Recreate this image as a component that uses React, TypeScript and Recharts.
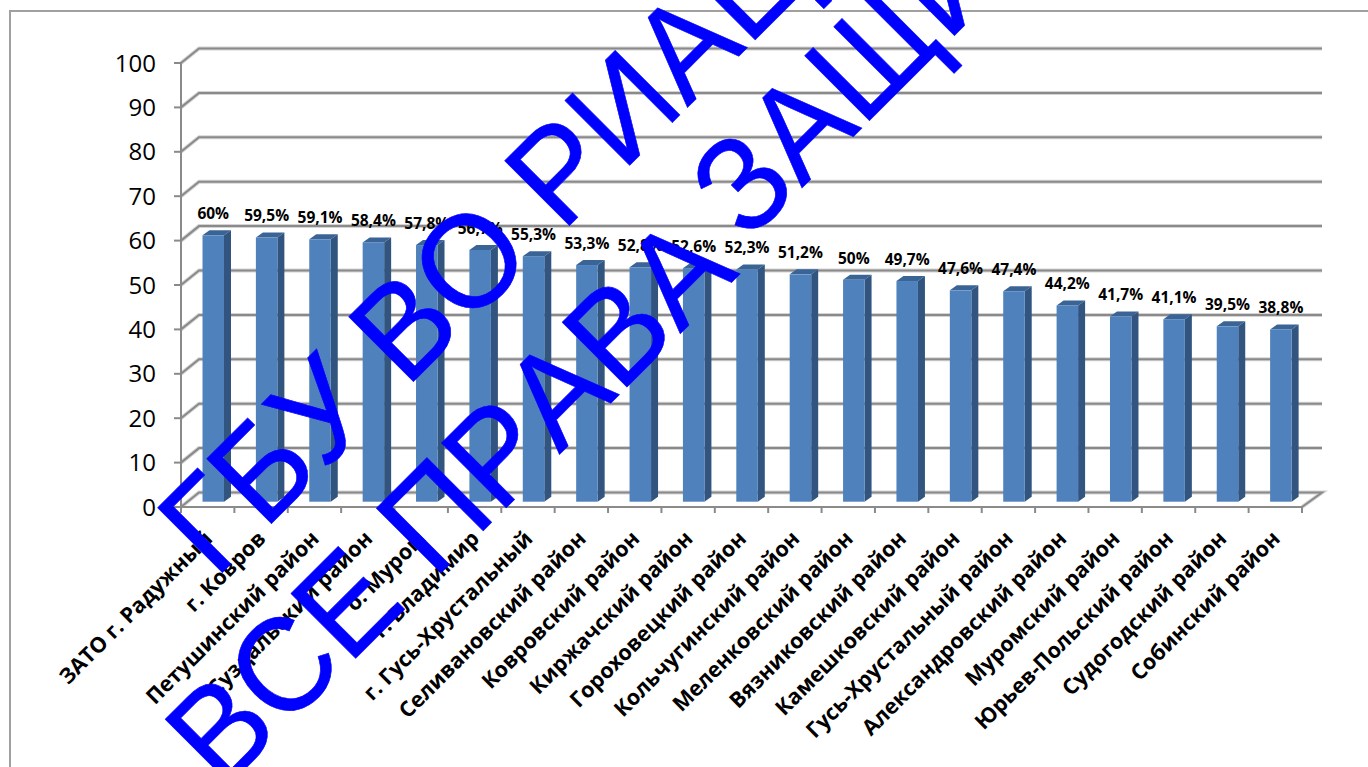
import React from 'react';
import { BarChart, Bar, XAxis, YAxis, CartesianGrid, LabelList } from 'recharts';

const categories = [
  'ЗАТО г. Радужный', 'г. Ковров', 'Петушинский район', 'Суздальский район', 'о. Муром', 'г. Владимир',
  'г. Гусь-Хрустальный', 'Селивановский район', 'Ковровский район', 'Киржачский район', 'Гороховецкий район',
  'Кольчугинский район', 'Меленковский район', 'Вязниковский район', 'Камешковский район',
  'Гусь-Хрустальный район', 'Александровский район', 'Муромский район', 'Юрьев-Польский район',
  'Судогодский район', 'Собинский район',
];
const values = [60, 59.5, 59.1, 58.4, 57.8, 56.7, 55.3, 53.3, 52.8, 52.6, 52.3, 51.2, 50, 49.7, 47.6, 47.4, 44.2, 41.7, 41.1, 39.5, 38.8];
const yTicks = [0, 10, 20, 30, 40, 50, 60, 70, 80, 90, 100];
const watermarkLine1 = 'ГБУ ВО РИАЦ';
const watermarkLine2a = 'ВСЕ ПРАВА';
const watermarkLine2b = 'ЗАЩИЩЕНЫ';

const data = categories.map((name, i) => ({ name, value: values[i] }));

const FONT = '"Open Sans", "Noto Sans", sans-serif';
const WM_FONT = '"Liberation Sans", Arial, sans-serif';
const GRID = '#8a8a8a';
const WALL_DX = 18;
const WALL_DY = 14.5;
const BAR_DX = 5.5;
const BAR_DY = 5.3;
const DEPTH_X = 7;
const DEPTH_Y = 5;

const GridLine = (p: any) => {
  const { x1, x2, y1 } = p;
  const isFloor = Math.abs(y1 - 507) < 1;
  const d = `M${x1},${y1} L${x1 + WALL_DX},${y1 - WALL_DY} L${x2 + WALL_DX + 2},${y1 - WALL_DY}${isFloor ? ` L${x2},${y1}` : ''}`;
  return (
    <g key={p.key}>
      <path d={d} fill="none" stroke="#d4d4d4" strokeWidth={4} />
      <path d={d} fill="none" stroke={GRID} strokeWidth={2} />
    </g>
  );
};

const Bar3D = (p: any) => {
  const x = p.x + BAR_DX;
  const y = p.y - BAR_DY;
  const w = p.width;
  const h = p.height;
  return (
    <g>
      <path d={`M${x},${y} L${x + DEPTH_X},${y - DEPTH_Y} L${x + w + DEPTH_X},${y - DEPTH_Y} L${x + w},${y} Z`} fill="#3b6496" />
      <path d={`M${x + w},${y} L${x + w + DEPTH_X},${y - DEPTH_Y} L${x + w + DEPTH_X},${y + h - DEPTH_Y} L${x + w},${y + h} Z`} fill="#325580" />
      <rect x={x} y={y} width={w} height={h} fill="#4f81bd" />
    </g>
  );
};

const XTick = (p: any) => {
  const { x, payload, width, visibleTicksCount, index } = p;
  const slot = width / visibleTicksCount;
  const top = 507;
  const left = x - slot / 2;
  return (
    <g>
      <line x1={left} x2={left} y1={top} y2={top + 6} stroke={GRID} strokeWidth={2} />
      {index === visibleTicksCount - 1 && <line x1={left + slot} x2={left + slot} y1={top} y2={top + 6} stroke={GRID} strokeWidth={2} />}
      <text
        x={x + 6}
        y={top + 33}
        textAnchor="end"
        transform={`rotate(-45 ${x + 6} ${top + 33})`}
        fontFamily={FONT}
        fontWeight={700}
        fontSize={21.5}
        fill="#000"
      >
        {payload.value}
      </text>
    </g>
  );
};

const ValueLabel = (p: any) => {
  const { x, y, width, value } = p;
  return (
    <text
      x={x + width / 2 + BAR_DX}
      y={y - 21.4}
      textAnchor="middle"
      fontFamily={FONT}
      fontWeight={700}
      fontSize={15.5}
      fill="#000"
    >
      {`${String(value).replace('.', ',')}%`}
    </text>
  );
};

const Watermark = ({ text, x, y }: { text: string; x: number; y: number }) => (
  <text
    transform={`translate(${x},${y}) rotate(-45) scale(1,1.04)`}
    fontFamily={WM_FONT}
    fontSize={128}
    fill="#0000ff"
    stroke="#0000ff"
    strokeWidth={0.6}
    style={{ fontKerning: 'none' }}
  >
    {text}
  </text>
);

export default function App() {
  return (
    <div style={{ position: 'absolute', left: 0, top: 0, width: 1368, height: 767, overflow: 'hidden', background: '#fff' }}>
      <div style={{ position: 'absolute', left: 9, top: 10, width: 1368, height: 767, borderLeft: '2px solid #a0a0a0', borderTop: '2px solid #a0a0a0' }} />
      <div style={{ position: 'absolute', left: 0, top: 0 }}>
        <BarChart
          width={1368}
          height={767}
          data={data}
          margin={{ top: 63, right: 66, bottom: 0, left: 0 }}
          barSize={21.5}
        >
          <CartesianGrid vertical={false} horizontal={GridLine as any} />
          <XAxis
            dataKey="name"
            interval={0}
            height={260}
            tickLine={false}
            axisLine={{ stroke: GRID, strokeWidth: 2 }}
            tick={XTick as any}
          />
          <YAxis
            width={181}
            domain={[0, 100]}
            ticks={yTicks}
            interval={0}
            tickSize={7}
            tickMargin={18}
            axisLine={{ stroke: GRID, strokeWidth: 2 }}
            tickLine={{ stroke: GRID, strokeWidth: 2 }}
            tick={{ fontFamily: FONT, fontSize: 24, fill: '#000' }}
          />
          <Bar dataKey="value" shape={Bar3D as any} isAnimationActive={false}>
            <LabelList dataKey="value" content={ValueLabel as any} />
          </Bar>
        </BarChart>
      </div>
      <svg width={1368} height={767} style={{ position: 'absolute', left: 0, top: 0, pointerEvents: 'none' }}>
        <Watermark text={watermarkLine1} x={215} y={580} />
        <Watermark text={watermarkLine2a} x={222.5} y={791.5} />
        <Watermark text={watermarkLine2b} x={747} y={243} />
      </svg>
    </div>
  );
}
